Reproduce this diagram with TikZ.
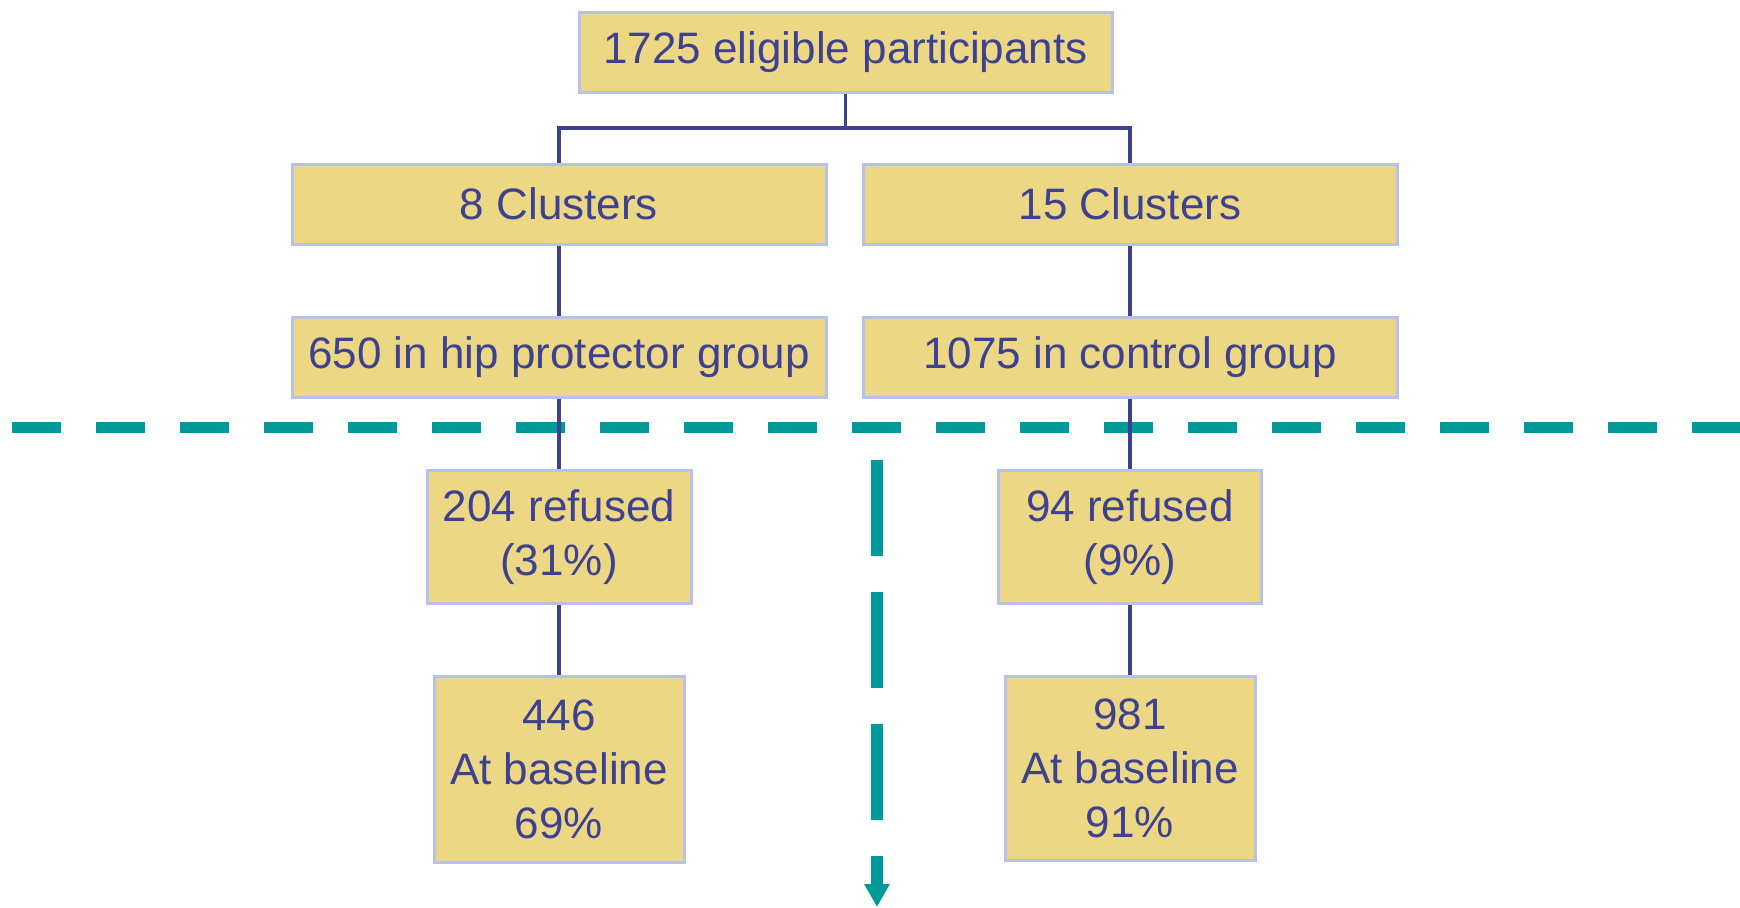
\documentclass[tikz,border=0pt]{standalone}
\usepackage{fontspec}
\setmainfont{Liberation Sans}
\usetikzlibrary{arrows.meta}

\definecolor{boxfill}{HTML}{EBD784}
\definecolor{boxline}{HTML}{B8C0EC}
\definecolor{ink}{HTML}{3D4190}
\definecolor{teal}{HTML}{009999}

\tikzset{
  box/.style={draw=boxline, line width=1.5pt, fill=boxfill, text=ink,
    inner sep=0pt, align=center, font=\fontsize{22}{27}\selectfont},
  link/.style={draw=ink, line width=1.6pt},
  cut/.style={draw=teal, line width=5.5pt, dash pattern=on 24.5pt off 17.5pt},
  timeline/.style={draw=teal, line width=6pt, dash pattern=on 48pt off 18pt}
}

\begin{document}
\begin{tikzpicture} [x=0.5pt, y=-0.5pt]

\useasboundingbox (0,0) rectangle (1740,907);

\node [box, minimum width=266.5pt, minimum height=40pt] (all) at (845.5,52) {1725 eligible participants};

\node [box, minimum width=267pt, minimum height=40pt] (c8) at (559,204) {8 Clusters};
\node [box, minimum width=267pt, minimum height=40pt] (c15) at (1130,204) {15 Clusters};

\node [box, minimum width=267pt, minimum height=40pt] (hip) at (559,357) {650 in hip protector group};
\node [box, minimum width=267pt, minimum height=40pt] (ctrl) at (1130,357) {1075 in control group};

\node [box, minimum width=132pt, minimum height=66.5pt] (ref1) at (559,537) {204 refused\\(31\%)};
\node [box, minimum width=131.5pt, minimum height=66.5pt] (ref2) at (1130,537) {94 refused\\(9\%)};

\node [box, minimum width=125pt, minimum height=93pt] (base1) at (559,769) {446\\At baseline\\69\%};
\node [box, minimum width=125pt, minimum height=92pt] (base2) at (1130,768) {981\\At baseline\\91\%};

\coordinate (split) at (845.5,128);
\coordinate (cutL) at (12,427);
\coordinate (cutR) at (1740,427);
\coordinate (timeA) at (877,460);
\coordinate (timeB) at (877,907);

% dashed lines
\draw [cut] (cutL) -- (cutR);
\draw [timeline, -{Triangle[length=11.5pt,width=12pt]}] (timeA) -- (timeB);

% connectors
\draw [link] (all.south) -- (split);
\draw [link] (c8.north) |- (split) -| (c15.north);
\draw [link] (c8) -- (hip);
\draw [link] (c15) -- (ctrl);
\draw [link] (hip) -- (ref1);
\draw [link] (ctrl) -- (ref2);
\draw [link] (ref1) -- (base1);
\draw [link] (ref2) -- (base2);

\end{tikzpicture}
\end{document}
